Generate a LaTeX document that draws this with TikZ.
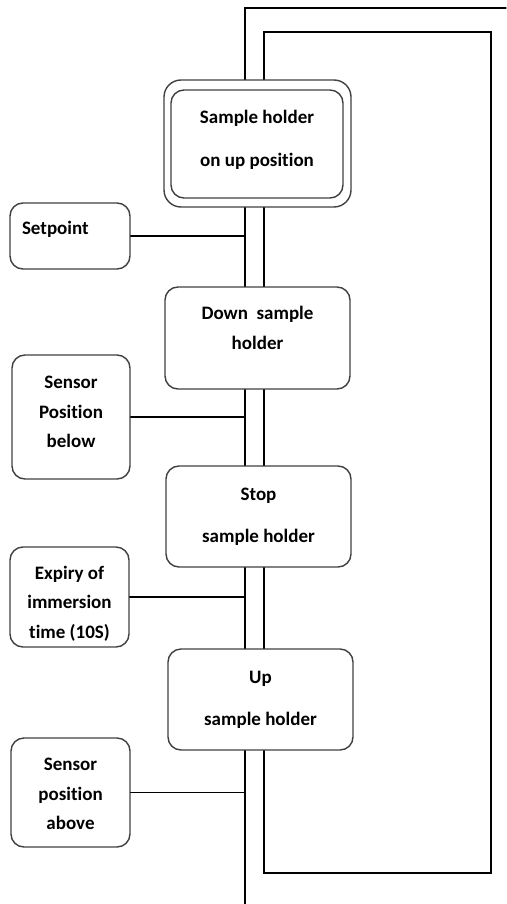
\documentclass[tikz,border=0pt]{standalone}
\usepackage{fontspec}
\setmainfont{Carlito}[Ligatures=NoCommon]
\usetikzlibrary{positioning}

\begin{document}
\begin{tikzpicture}[x=1pt,y=-1pt,line cap=round,
		stepbox/.style={draw=black!75,line width=1.4pt,rounded corners=13pt,align=center,
			inner sep=0pt,minimum width=185pt,minimum height=101pt,
			font=\fontsize{19}{30}\selectfont\bfseries},
		condbox/.style={draw=black!75,line width=1.4pt,rounded corners=13pt,align=center,
			inner sep=0pt,minimum width=119pt,
			font=\fontsize{19}{29.5}\selectfont\bfseries},
		wire/.style={line width=1.2pt}]
	\useasboundingbox (0,0) rectangle (506,904);
	%\draw[help lines] (0,0) grid[step=50] (506,904);
	% steps
	\node[stepbox,minimum width=187pt,minimum height=127pt,rounded corners=17pt] (init) at (257.5,143.5) {};
	\node[stepbox,minimum width=172pt,minimum height=108pt,rounded corners=13pt,text depth=11pt] (initin) at (257,144) {Sample holder\\[12.5pt]on up position};
	\node[stepbox,minimum height=102pt,text depth=20pt] (down) at (257.5,338) {Down~~sample\\holder};
	\node[stepbox] (stop) at (258.5,516.5) {Stop\\[12pt]sample holder};
	\node[stepbox] (up) at (260.5,699.5) {Up\\[12pt]sample holder};
	% conditions
	\node[condbox,minimum width=120pt,minimum height=66pt,text width=96pt,align=left,text depth=16pt] (setp) at (70,236) {Setpoint};
	\node[condbox,minimum width=118pt,minimum height=124pt,text depth=10pt] (below) at (71,417) {Sensor\\Position\\below};
	\node[condbox,minimum height=100pt,text height=85pt] (expiry) at (69.5,597) {Expiry of\\immersion\\time (10S)};
	\node[condbox,minimum height=109pt,text height=75pt] (above) at (70.5,792.5) {Sensor\\position\\above};
	% wires
	\coordinate (L) at (245,0);
	\coordinate (R) at (264,0);
	\coordinate (outend) at (506,8);
	\coordinate (looptop) at (491,32);
	\coordinate (loopbot) at (491,873);
	\coordinate (lowend) at (245,904);
	\draw[wire] (init.north -| L) |- (outend);
	\draw[wire] (init.north -| R) |- (looptop) -- (loopbot) -| (up.south -| R);
	\foreach \A/\B in {init/down,down/stop,stop/up}
	{\draw[wire] (\A.south -| L) -- (\B.north -| L);
		\draw[wire] (\A.south -| R) -- (\B.north -| R);}
	\draw[wire] (up.south -| L) -- (lowend);
	\foreach \C in {setp,below,expiry,above}
	{\draw[wire] (\C.east) -- (\C.east -| L);}
\end{tikzpicture}
\end{document}
